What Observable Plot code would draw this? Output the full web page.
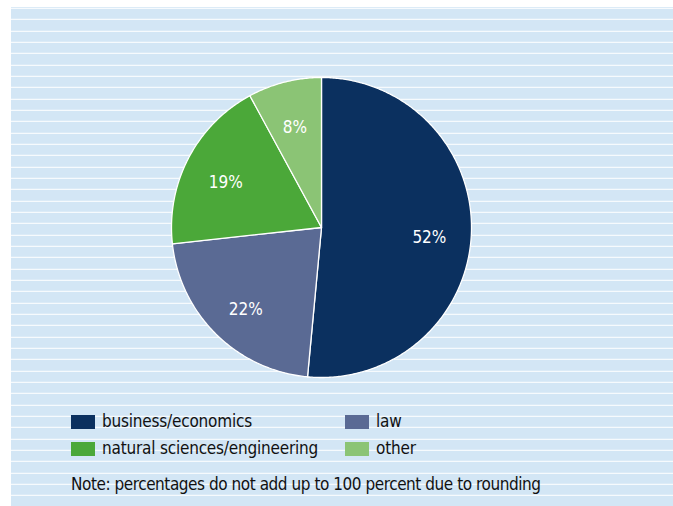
<!DOCTYPE html>
<html>
<head>
<meta charset="utf-8">
<script src="https://cdn.jsdelivr.net/npm/d3@7"></script>
<script src="https://cdn.jsdelivr.net/npm/@observablehq/plot@0.6"></script>
<style>
  html, body { margin: 0; padding: 0; background: #fff; }
  body { width: 673px; height: 506px; position: relative; overflow: hidden;
         font-family: "DejaVu Sans Condensed", "DejaVu Sans", sans-serif; }
  #panel { position: absolute; left: 11px; top: 7px; width: 662px; height: 499px;
           background-image: repeating-linear-gradient(to bottom, #ffffff 0px, #ffffff 1px, #d3e6f5 1px, #d3e6f5 11.33px);
           background-position: 0 0.8px; }
  #chart { position: absolute; left: 0; top: 0; }
  .legend { position: absolute; font-size: 17px; color: #111; line-height: 1; white-space: nowrap; letter-spacing: -0.2px; }
  .legend .sw { position: absolute; left: 0; top: 1px; width: 24px; height: 14px; }
  .legend .lb { position: absolute; left: 31px; top: -1px; }
  #note { position: absolute; left: 71px; top: 474px; font-size: 17px; color: #111; white-space: nowrap; letter-spacing: -0.45px; }
</style>
</head>
<body>
<div id="panel"></div>
<div id="chart"></div>
<div id="legend"></div>
<div id="note"></div>
<script>
const categories = ["business/economics", "law", "natural sciences/engineering", "other"];
const shares = [52, 22, 19, 8];
const colors = ["#0b305f", "#5a6a94", "#4ba839", "#8bc475"];
const noteText = "Note: percentages do not add up to 100 percent due to rounding";

const data = categories.map((c, i) => ({name: c, value: shares[i]}));
const arcs = d3.pie().sort(null).value(d => d.value)(data);

// polygon points for every slice (angle measured clockwise from 12 o'clock)
const poly = [];
for (const a of arcs) {
  poly.push({name: a.data.name, x: 0, y: 0});
  const n = Math.max(4, Math.ceil((a.endAngle - a.startAngle) / 0.01));
  for (let k = 0; k <= n; k++) {
    const t = a.startAngle + (a.endAngle - a.startAngle) * k / n;
    poly.push({name: a.data.name, x: Math.sin(t), y: Math.cos(t)});
  }
  poly.push({name: a.data.name, x: 0, y: 0});
}
const labels = arcs.map(a => {
  const m = (a.startAngle + a.endAngle) / 2;
  return {name: a.data.name, text: a.data.value + "%", x: 0.72 * Math.sin(m), y: 0.72 * Math.cos(m)};
});

const W = 673, H = 400, cx = 321, cy = 227, R = 150;
const chart = Plot.plot({
  width: W, height: H,
  margin: 0,
  style: {background: "transparent", overflow: "visible", fontFamily: "DejaVu Sans Condensed, DejaVu Sans, sans-serif"},
  x: {domain: [-cx / R, (W - cx) / R], axis: null},
  y: {domain: [-(H - cy) / R, cy / R], axis: null},
  color: {domain: categories, range: colors},
  marks: [
    Plot.line(poly, {x: "x", y: "y", z: "name", fill: "name", stroke: "white", strokeWidth: 1.3, curve: "linear-closed"}),
    Plot.text(labels, {x: "x", y: "y", text: "text", fill: "white", fontSize: 17, dy: 5})
  ]
});
document.getElementById("chart").appendChild(chart);

// legend
const pos = [[71, 414], [345, 414], [71, 441], [345, 441]];
const lg = document.getElementById("legend");
categories.forEach((c, i) => {
  const d = document.createElement("div");
  d.className = "legend";
  d.style.left = pos[i][0] + "px";
  d.style.top = pos[i][1] + "px";
  d.innerHTML = `<div class="sw" style="background:${colors[i]}"></div><div class="lb">${c}</div>`;
  lg.appendChild(d);
});
document.getElementById("note").textContent = noteText;
</script>
</body>
</html>
